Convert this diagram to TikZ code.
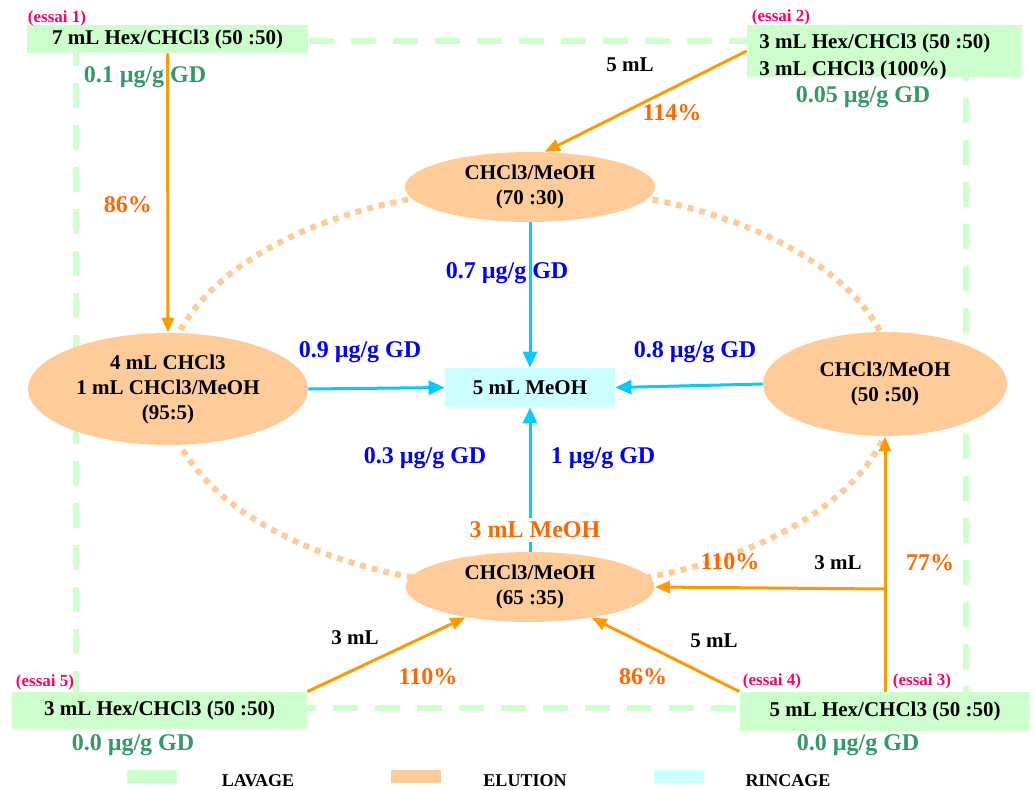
\documentclass[tikz,border=0pt]{standalone}
\usepackage{fontspec}
\setmainfont{Liberation Serif}
\usetikzlibrary{shapes.geometric,arrows.meta}
\definecolor{lavage}{HTML}{CCFFCC}
\definecolor{elution}{HTML}{FFCC99}
\definecolor{rincage}{HTML}{CCFFFF}
\definecolor{trait}{HTML}{FF9900}
\definecolor{rinc}{HTML}{00CCFF}
\definecolor{rend}{HTML}{FF6600}
\definecolor{rose}{HTML}{FF0066}
\definecolor{vert}{HTML}{339966}
\definecolor{bleu}{HTML}{0000FF}
\begin{document}
\begin{tikzpicture}[x=0.5pt,y=-0.5pt,
  font=\bfseries\fontsize{10.5}{12.5}\selectfont,
  bac/.style={fill=lavage,inner sep=0pt},
  sol/.style={ellipse,fill=elution,inner sep=0pt,align=center},
  grand/.style={font=\bfseries\fontsize{12}{14}\selectfont},
  essai/.style={text=rose,font=\bfseries\fontsize{8.5}{10}\selectfont},
  gd/.style={grand,text=vert},
  mes/.style={grand,text=bleu},
  pct/.style={grand,text=rend},
  elu/.style={draw=trait,line width=1.5pt,-{Triangle[length=7.5pt,width=6pt]}},
  rin/.style={draw=rinc,line width=1.5pt,-{Triangle[length=8pt,width=7pt]}},
  leg/.style={minimum width=25pt,minimum height=6.5pt,inner sep=0pt}]
\useasboundingbox (0,0) rectangle (1035,789);
% cadre lavage et cercle elution
\draw[lavage,line width=3pt,dash pattern=on 12.5pt off 8.5pt] (76,41) rectangle (966,708);
\draw[elution,line width=3pt,dash pattern=on 3pt off 3pt] (530,388) ellipse [x radius=182.5pt,y radius=100pt];
% essais
\node[bac,minimum width=140.5pt,minimum height=14pt] (e1) at (167.5,39) {7 mL Hex/CHCl3 (50 :50)};
\node[bac,minimum width=137.5pt,minimum height=26pt] (e2) at (884.5,51) {};
\node[align=left,anchor=west,inner sep=0pt,font=\bfseries\fontsize{10.5}{13.5}\selectfont] (e2t) at (759,57)
  {3 mL Hex/CHCl3 (50 :50)\\3 mL CHCl3 (100\%)};
\node[bac,minimum width=147.5pt,minimum height=18.5pt] (e5) at (159.5,710.5) {3 mL Hex/CHCl3 (50 :50)};
\node[bac,minimum width=145pt,minimum height=19.5pt] (e34) at (885,711.5) {5 mL Hex/CHCl3 (50 :50)};
\node[essai] (n1) at (57,18) {(essai 1)};
\node[essai] (n2) at (781,17) {(essai 2)};
\node[essai] (n5) at (45,682) {(essai 5)};
\node[essai] (n4) at (772,681) {(essai 4)};
\node[essai] (n3) at (922,681) {(essai 3)};
\node[gd] (g1) at (145,77) {0.1 µg/g GD};
\node[gd] (g2) at (863,97) {0.05 µg/g GD};
\node[gd] (g5) at (133,745) {0.0 µg/g GD};
\node[gd] (g34) at (858,745) {0.0 µg/g GD};
% solvants
\node[sol,minimum width=125pt,minimum height=35pt] (t) at (530,187) {CHCl3/MeOH\\(70 :30)};
\node[sol,minimum width=140pt,minimum height=56pt] (l) at (168,389) {4 mL CHCl3\\1 mL CHCl3/MeOH\\(95:5)};
\node[sol,minimum width=122pt,minimum height=52pt] (r) at (885,384) {CHCl3/MeOH\\(50 :50)};
\node[sol,minimum width=124.5pt,minimum height=35pt] (b) at (530,587) {CHCl3/MeOH\\(65 :35)};
\node[fill=rincage,minimum width=85pt,minimum height=19.5pt,inner sep=0pt] (m) at (530,387.5) {5 mL MeOH};
% fleches
\draw[elu] (e1.south) -- (l.north);
\draw[elu] (e2.west) -- (t.67);
\draw[elu] (e5.north east) -- (b);
\draw[elu] (e34.north west) -- (b);
\coordinate (br) at (885,589);
\draw[elu] (e34.north) -- (r.south);
\draw[elu] (br) -- (b.east);
\draw[rin] (t.south) -- (m.north);
\draw[rin] (l.east) -- (m.west);
\draw[rin] (r.west) -- (m.east);
\draw[rin] (b.north) -- (m.south);
\node[pct,fill=white,inner sep=2pt] (v) at (535,530) {3 mL MeOH};
% etiquettes
\node[pct] (p1) at (128,205) {86\%};
\node (v2) at (630,65) {5 mL};
\node[pct] (p2) at (672,113) {114\%};
\node[mes] (m1) at (507,273) {0.7 µg/g GD};
\node[mes] (m2) at (360,352) {0.9 µg/g GD};
\node[mes] (m3) at (695,352) {0.8 µg/g GD};
\node[mes] (m4) at (425,458) {0.3 µg/g GD};
\node[mes] (m5) at (603,458) {1 µg/g GD};
\node[pct] (p3) at (730,562) {110\%};
\node (v3) at (838,563) {3 mL};
\node[pct] (p4) at (930,563) {77\%};
\node (v5) at (355,638) {3 mL};
\node[pct] (p5) at (428,677) {110\%};
\node (v4) at (714,641) {5 mL};
\node[pct] (p6) at (643,677) {86\%};
% legende
\node[leg,fill=lavage] (c1) at (152,776) {};
\node[leg,fill=elution] (c2) at (416,776) {};
\node[leg,fill=rincage] (c3) at (679,776) {};
\node[font=\bfseries\fontsize{9}{10}\selectfont] (t1) at (258,781) {LAVAGE};
\node[font=\bfseries\fontsize{9}{10}\selectfont] (t2) at (525,781) {ELUTION};
\node[font=\bfseries\fontsize{9}{10}\selectfont] (t3) at (788,781) {RINCAGE};
\end{tikzpicture}
\end{document}
